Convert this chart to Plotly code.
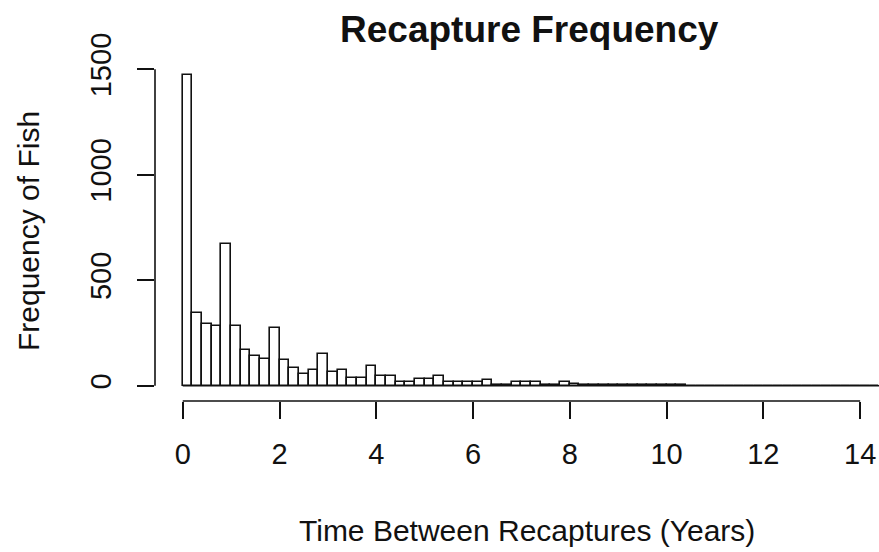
import numpy as np
import plotly.graph_objects as go

# Histogram of time between recaptures, 0.2-year bins from 0 to 14.4 years
bin_width = 0.2
bin_start = 0.0
counts = [
    1475, 345, 293, 285, 673, 285, 170, 141, 125, 272,   # 0.0 - 2.0
    121, 85, 56, 75, 149, 64, 73, 35, 35, 94,            # 2.0 - 4.0
    48, 48, 18, 16, 33, 33, 45, 16, 16, 16,              # 4.0 - 6.0
    16, 28, 5, 5, 18, 18, 18, 5, 5, 18,                  # 6.0 - 8.0
    6, 5, 5, 4, 4, 3, 4, 3, 3, 2,                        # 8.0 - 10.0
    3, 2, 1, 1, 0, 1, 0, 1, 0, 0,                        # 10.0 - 12.0
    1, 0, 0, 0, 0, 1, 0, 0, 0, 0,                        # 12.0 - 14.0
    0, 1,                                                # 14.0 - 14.4
]
x_ticks = [0, 2, 4, 6, 8, 10, 12, 14]
y_ticks = [0, 500, 1000, 1500]

edges = bin_start + bin_width * np.arange(len(counts) + 1)
centers = (edges[:-1] + edges[1:]) / 2

FONT = "Liberation Sans, Arial, sans-serif"
INK = "#111111"

fig = go.Figure()
fig.add_trace(go.Bar(
    x=centers, y=counts, width=bin_width,
    marker=dict(color="white", line=dict(color=INK, width=1.6)),
    hoverinfo="skip",
))
# empty bins still show as a flat rule along zero
fig.add_trace(go.Scatter(
    x=[edges[0], edges[-1]], y=[0, 0], mode="lines",
    line=dict(color=INK, width=1.6), hoverinfo="skip",
))

# axis rules span only from first to last tick, base-graphics style
fig.add_shape(type="line", xref="x", yref="paper",
              x0=x_ticks[0], x1=x_ticks[-1], y0=0, y1=0,
              line=dict(color=INK, width=1.6))
fig.add_shape(type="line", xref="paper", yref="y",
              x0=0, x1=0, y0=y_ticks[0], y1=y_ticks[-1],
              line=dict(color=INK, width=1.6))

fig.update_layout(
    width=879, height=552, autosize=False,
    margin=dict(l=155, r=0, t=61, b=151),
    paper_bgcolor="white", plot_bgcolor="white",
    showlegend=False, bargap=0,
    font=dict(family=FONT, color=INK),
    xaxis=dict(
        range=[-0.573, 14.39], showgrid=False, zeroline=False, showline=False,
        tickmode="array", tickvals=x_ticks, ticktext=[str(t) for t in x_ticks],
        ticks="outside", ticklen=17, tickwidth=1.6, tickcolor=INK,
        tickfont=dict(size=29, family=FONT, color=INK),
        ticklabelstandoff=10,
    ),
    yaxis=dict(
        range=[-72.5, 1539.6], showgrid=False, zeroline=False, showline=False,
        tickmode="array", tickvals=y_ticks, ticktext=[str(t) for t in y_ticks],
        ticks="outside", ticklen=17, tickwidth=1.6, tickcolor=INK,
        tickangle=-90,
        tickfont=dict(size=29, family=FONT, color=INK),
        ticklabelstandoff=14,
    ),
    annotations=[
        dict(text="<b>Recapture Frequency</b>", xref="paper", yref="paper",
             x=0.5166, y=1.092, xanchor="center", yanchor="middle",
             showarrow=False, font=dict(size=37, family=FONT, color=INK)),
        dict(text="Time Between Recaptures (Years)", xref="paper", yref="paper",
             x=0.514, y=-0.382, xanchor="center", yanchor="middle",
             showarrow=False, font=dict(size=30, family=FONT, color=INK)),
        dict(text="Frequency of Fish", xref="paper", yref="paper",
             x=-0.1754, y=0.5, xanchor="center", yanchor="middle", textangle=-90,
             showarrow=False, font=dict(size=30, family=FONT, color=INK)),
    ],
)

fig.write_html("out.html")
